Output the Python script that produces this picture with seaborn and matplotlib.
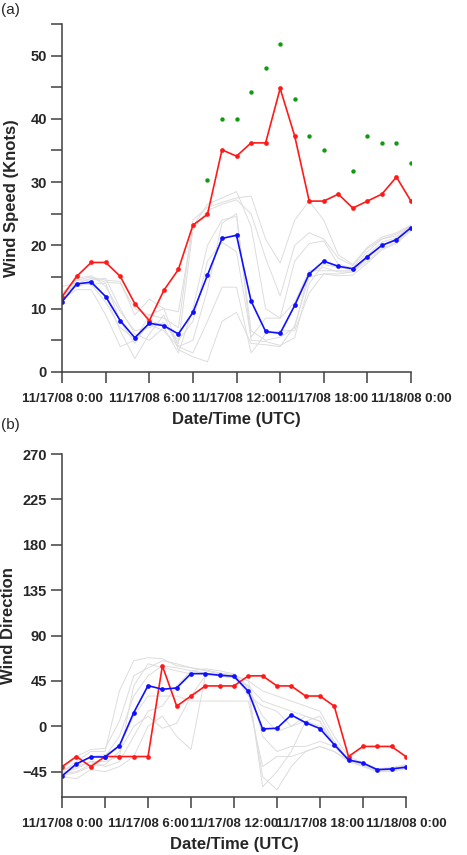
import numpy as np
import pandas as pd
import matplotlib
matplotlib.use("Agg")
import matplotlib.pyplot as plt
import seaborn as sns

# hours since 11/17/08 0:00 UTC
hours = list(range(25))

# panel (a): wind speed (knots)
obs_speed = [11.9, 15.1, 17.3, 17.3, 15.1, 10.8, 8.1, 12.9, 16.2, 23.2, 24.9, 35.1, 34.1,
             36.2, 36.2, 44.8, 37.3, 27.0, 27.0, 28.1, 25.9, 27.0, 28.1, 30.8, 27.0]
mean_speed = [11.1, 13.9, 14.2, 11.9, 8.1, 5.4, 7.7, 7.3, 6.0, 9.4, 15.3, 21.1, 21.6,
              11.2, 6.4, 6.1, 10.5, 15.5, 17.5, 16.7, 16.3, 18.2, 20.0, 20.9, 22.8]
gust_speed = [np.nan] * 10 + [30.3, 40.0, 40.0, 44.3, 48.1, 51.9, 43.2, 37.3, 35.1,
                              np.nan, 31.8, 37.3, 36.2, 36.2, 33.0]
member_speed = [
    [12.5, 14.5, 15.0, 14.5, 14.3, 9.0, 11.5, 10.0, 9.5, 23.0, 26.5, 27.5, 28.5, 23.0, 10.0, 8.5, 17.5, 20.3, 20.7, 17.0, 16.5, 19.0, 21.0, 21.5, 23.0],
    [13.5, 14.0, 14.8, 14.2, 14.0, 10.0, 9.0, 8.5, 7.0, 24.0, 26.0, 26.8, 27.5, 27.8, 21.0, 17.2, 24.0, 27.0, 24.0, 18.5, 17.0, 19.7, 21.3, 22.0, 23.2],
    [11.5, 13.0, 13.0, 9.0, 4.0, 5.0, 9.0, 10.0, 4.0, 3.0, 8.0, 13.4, 13.4, 3.0, 6.0, 6.5, 6.5, 12.5, 15.5, 15.2, 15.3, 17.2, 19.3, 20.3, 22.3],
    [12.0, 13.5, 14.0, 12.0, 6.5, 2.1, 6.0, 9.0, 3.5, 2.4, 1.6, 8.0, 9.4, 4.5, 4.3, 4.0, 7.3, 15.0, 15.5, 15.5, 15.8, 17.5, 19.5, 20.5, 22.5],
    [11.0, 14.5, 14.5, 14.8, 10.0, 6.0, 5.0, 7.0, 3.0, 10.0, 20.0, 24.0, 24.6, 6.5, 5.0, 5.5, 7.0, 16.0, 16.0, 16.0, 16.0, 18.0, 20.0, 21.0, 22.8],
    [11.5, 14.0, 14.0, 14.0, 8.0, 4.5, 8.0, 7.5, 5.0, 8.0, 17.5, 20.5, 19.0, 5.5, 8.5, 8.5, 11.0, 16.0, 16.5, 15.8, 15.8, 18.0, 20.0, 21.0, 22.7],
    [12.0, 14.0, 13.8, 11.0, 7.0, 5.2, 7.5, 6.5, 4.0, 5.0, 13.0, 23.5, 25.0, 5.0, 4.8, 4.2, 5.4, 14.0, 17.0, 16.5, 16.2, 18.5, 20.5, 21.2, 23.0],
    [12.2, 14.8, 15.2, 13.5, 9.5, 6.5, 7.0, 7.8, 4.5, 22.5, 25.5, 26.5, 27.2, 25.0, 18.0, 12.0, 20.0, 22.0, 21.0, 18.0, 16.8, 19.5, 21.0, 21.8, 23.1],
]

# panel (b): wind direction
obs_dir = [-40, -30, -40, -30, -30, -30, -30, 60, 20, 30, 40, 40, 40,
           50, 50, 40, 40, 30, 30, 20, -30, -20, -20, -20, -30]
mean_dir = [-49.2, -37.3, -30.4, -30.4, -19.2, 13.5, 40.3, 36.7, 38.0, 52.2, 52.2, 50.6, 49.6,
            34.7, -2.6, -2.0, 11.2, 3.6, -2.3, -18.2, -33.4, -36.4, -43.0, -42.3, -40.6]
member_dir = [
    [-45, -35, -25, -25, 35, 65, 68, 67, 60, 58, 55, 52, 50, 45, -10, -25, -20, -20, -15, -20, -33, -38, -43, -43, -40],
    [-42, -30, -23, -22, 5, 50, 58, 65, 62, 58, 56, 53, 51, 45, 35, 30, 25, 20, 15, -10, -30, -36, -42, -41, -38],
    [-50, -52, -43, -45, -40, -30, 0, 10, -10, -23, 50, 52, 50, 40, -60, -45, -25, 5, 10, -15, -35, -40, -45, -45, -42],
    [-48, -40, -35, -40, -35, -10, 15, 20, 40, 55, 57, 55, 52, 30, 20, 15, 0, 10, 5, -20, -34, -37, -44, -44, -40],
    [-47, -45, -38, -30, -10, 30, 50, 60, 58, 55, 53, 50, 48, 35, -50, -63, -40, -25, -20, -25, -35, -39, -45, -44, -41],
    [-46, -42, -35, -35, -30, 40, 62, 58, 55, 52, 52, 50, 48, 40, 25, 20, 15, 10, 5, -18, -32, -37, -43, -42, -39],
    [-44, -38, -30, -28, -20, 10, 30, 30, 30, 25, 25, 25, 25, 25, -40, -30, -30, -25, -20, -25, -34, -38, -44, -43, -40],
    [-49, -46, -40, -38, -25, 0, 10, -2, 3, 30, 50, 52, 51, 38, 10, -5, 0, 5, 0, -15, -33, -38, -44, -43, -40],
]

tick_labels = ["11/17/08 0:00", "11/17/08 6:00", "11/17/08 12:00", "11/17/08 18:00", "11/18/08 0:00"]

sns.set_style("ticks")
plt.rcParams['font.family'] = ['Liberation Sans', 'DejaVu Sans']


def members_frame(members):
    rows = []
    for i, vals in enumerate(members):
        for h, v in zip(hours, vals):
            rows.append({"hour": h, "value": v, "member": i})
    return pd.DataFrame(rows)


def style_axis(ax, xlabel, ylabel, ylab_x):
    ax.set_xlim(0, 24)
    ax.set_xticks([0, 6, 12, 18, 24])
    ax.set_xticks([3, 9, 15, 21], minor=True)
    ax.set_xticklabels(tick_labels, fontsize=9.5, fontweight='bold')
    for lab in ax.get_yticklabels():
        lab.set_fontweight('bold')
        lab.set_fontsize(10.5)
    ax.tick_params(which='both', direction='out', length=8, width=1.1, color='#404040', pad=3)
    ax.tick_params(axis='x', which='major', pad=7)
    for s in ['top', 'right']:
        ax.spines[s].set_visible(False)
    for s in ['left', 'bottom']:
        ax.spines[s].set_color('#404040')
        ax.spines[s].set_linewidth(1.1)
    ax.set_xlabel(xlabel, fontsize=12, fontweight='bold', labelpad=5)
    ax.set_ylabel(ylabel, fontsize=12, fontweight='bold')
    ax.yaxis.set_label_coords(ylab_x, 0.5)
    ax.grid(False)
    leg = ax.get_legend()
    if leg is not None:
        leg.remove()


fig = plt.figure(figsize=(4.67, 8.55), dpi=100)
ax1 = fig.add_axes([0.133, 0.565, 0.747, 0.407])
ax2 = fig.add_axes([0.133, 0.068, 0.736, 0.401])

# (a) wind speed
sns.lineplot(data=members_frame(member_speed), x="hour", y="value", units="member",
             estimator=None, color='#dddddd', linewidth=0.7, ax=ax1)
sns.lineplot(x=hours, y=obs_speed, color='#ff1a1a', linewidth=1.2, marker='o',
             markersize=3.4, markeredgewidth=0, ax=ax1)
sns.lineplot(x=hours, y=mean_speed, color='#1010ff', linewidth=1.2, marker='o',
             markersize=3.4, markeredgewidth=0, ax=ax1)
sns.scatterplot(x=hours, y=gust_speed, color='#119911', s=10, linewidth=0, ax=ax1)
ax1.set_ylim(0, 55)
ax1.set_yticks([0, 10, 20, 30, 40, 50])
ax1.set_yticks([5, 15, 25, 35, 45, 55], minor=True)
style_axis(ax1, "Date/Time (UTC)", "Wind Speed (Knots)", -0.125)

# (b) wind direction
sns.lineplot(data=members_frame(member_dir), x="hour", y="value", units="member",
             estimator=None, color='#dddddd', linewidth=0.7, ax=ax2)
sns.lineplot(x=hours, y=obs_dir, color='#ff1a1a', linewidth=1.2, marker='o',
             markersize=3.4, markeredgewidth=0, ax=ax2)
sns.lineplot(x=hours, y=mean_dir, color='#1010ff', linewidth=1.2, marker='o',
             markersize=3.4, markeredgewidth=0, ax=ax2)
ax2.set_ylim(-70, 270)
ax2.set_yticks([-45, 0, 45, 90, 135, 180, 225, 270])
style_axis(ax2, "Date/Time (UTC)", "Wind Direction", -0.135)

fig.text(0.002, 0.997, "(a)", fontsize=11, va='top', ha='left')
fig.text(0.002, 0.511, "(b)", fontsize=11, va='top', ha='left')

fig.savefig("out.png", dpi=100)
